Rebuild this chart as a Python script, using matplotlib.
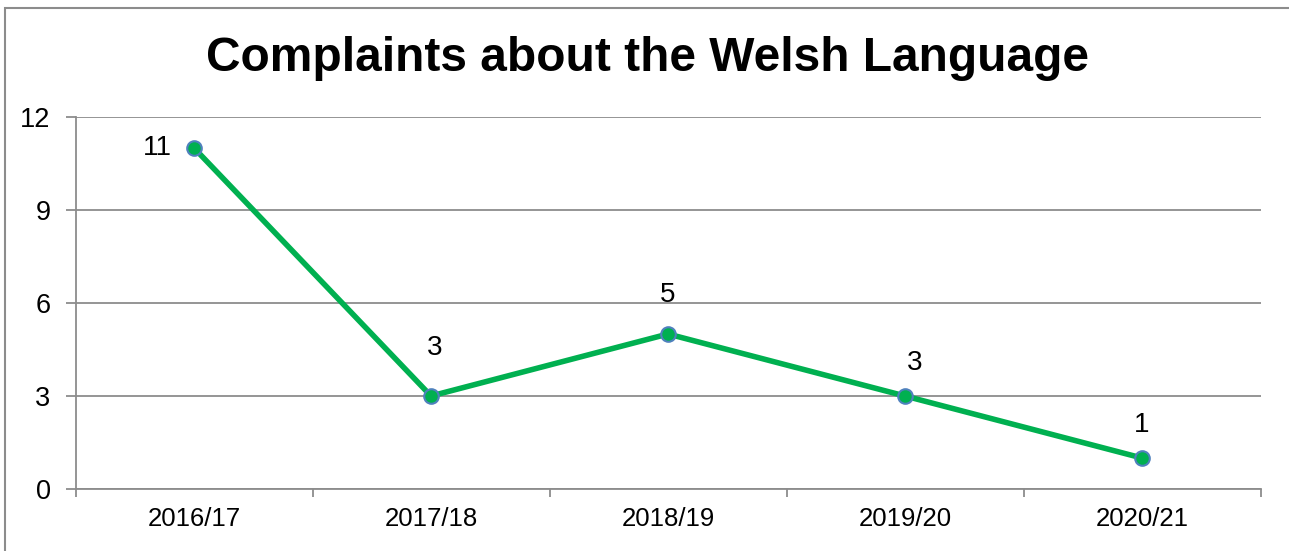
import matplotlib.pyplot as plt
from matplotlib.patches import Rectangle

plt.rcParams['font.family'] = ['Liberation Sans', 'DejaVu Sans']

years = ['2016/17', '2017/18', '2018/19', '2019/20', '2020/21']
complaints = [11, 3, 5, 3, 1]
# label offsets in pixels (dx, dy)
label_offsets = [(-37, 0), (4, 48), (0, 39), (10, 33), (0, 33)]

fig = plt.figure(figsize=(12.89, 5.51), dpi=100)
ax = fig.add_axes([0.0586, 0.1125, 0.9193, 0.6752])

x = list(range(len(years)))
ax.plot(x, complaints, color='#00b050', lw=4.0, zorder=3)
ax.plot(x, complaints, 'o', ms=10.5, mfc='#00b050', mec='#4f81bd', mew=1.5, zorder=4)

for xi, v, (dx, dy) in zip(x, complaints, label_offsets):
    ax.annotate(str(v), (xi, v), xytext=(dx * 0.72, dy * 0.72), textcoords='offset points',
                ha='center', va='center', fontsize=20)

ax.set_xlim(-0.5, len(years) - 0.5)
ax.set_ylim(0, 12)
ax.set_yticks([0, 3, 6, 9, 12])
ax.yaxis.grid(True, color='#8c8c8c', lw=1.3)
ax.set_axisbelow(True)
ax.set_xticks(x)
ax.set_xticklabels(years, fontsize=18.5)
ax.set_xticks([i - 0.5 for i in range(len(years) + 1)], minor=True)
ax.tick_params(axis='x', which='major', length=0, pad=13)
ax.tick_params(axis='x', which='minor', length=6, color='#8c8c8c', width=1.3, direction='out')
ax.tick_params(axis='y', length=7, color='#8c8c8c', width=1.3, labelsize=19.5, pad=11)
for s in ['top', 'right']:
    ax.spines[s].set_visible(False)
for s in ['left', 'bottom']:
    ax.spines[s].set_color('#8c8c8c')
    ax.spines[s].set_linewidth(1.3)

fig.text(0.502, 0.893, 'Complaints about the Welsh Language', ha='center', va='center',
         fontsize=34.5, fontweight='bold')

# outer chart border
fig.patches.append(Rectangle((5 / 1289, -0.1), 1.2, 1.1 - 8 / 551, transform=fig.transFigure,
                             fill=False, ec='#8c8c8c', lw=1.5))

fig.savefig('out.png', dpi=100)
